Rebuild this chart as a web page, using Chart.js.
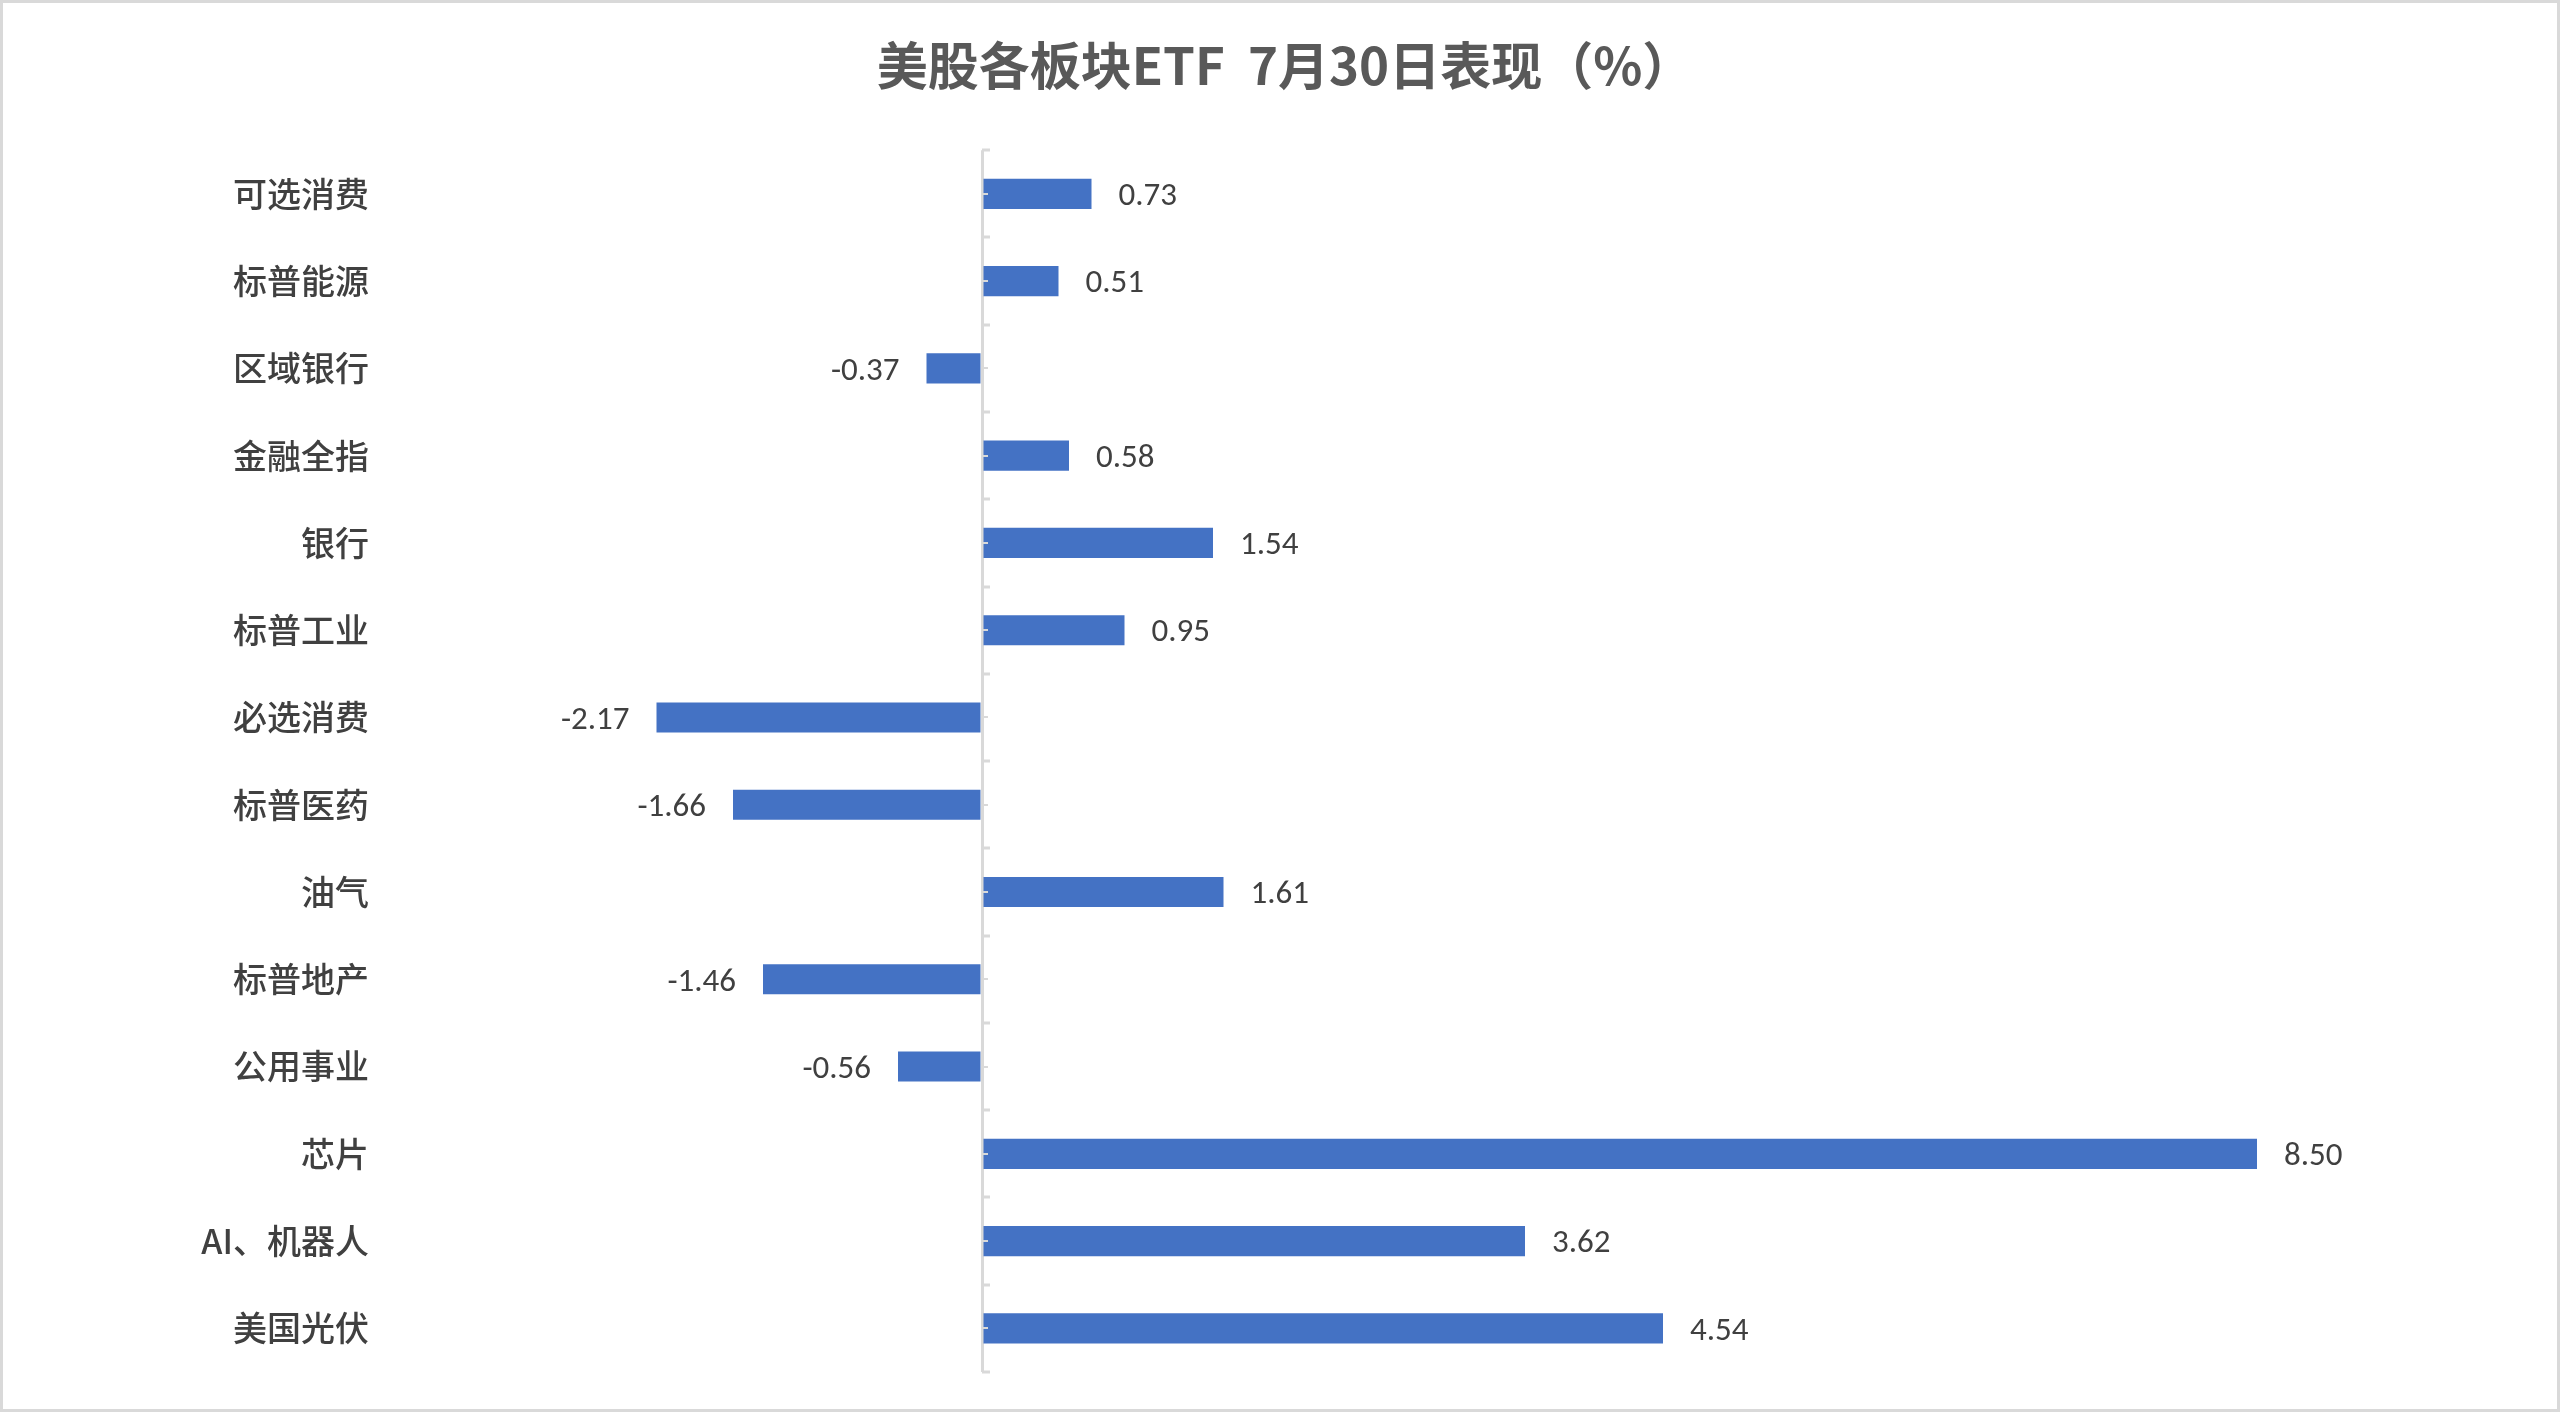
<!DOCTYPE html>
<html>
<head>
<meta charset="utf-8">
<script src="https://cdn.jsdelivr.net/npm/chart.js@4"></script>
<style>
  html, body { margin: 0; padding: 0; background: #fff; }
  #wrap { width: 2560px; height: 1412px; }
</style>
</head>
<body>
<div id="wrap"><canvas id="sectorChart" width="2560" height="1412"></canvas></div>
<script>
// Sector ETF moves on July 30 (%)
const categories = [
  "可选消费", "标普能源", "区域银行", "金融全指", "银行", "标普工业", "必选消费",
  "标普医药", "油气", "标普地产", "公用事业", "芯片", "AI、机器人", "美国光伏",
];
const changes = [0.73, 0.51, -0.37, 0.58, 1.54, 0.95, -2.17, -1.66, 1.61, -1.46, -0.56, 8.5, 3.62, 4.54];
const axisMin = -4;
const axisMax = 10;

const numFont = "Carlito, 'Liberation Sans Narrow', 'DejaVu Sans Condensed', sans-serif";
const cjkFont = "'Noto Sans CJK SC', 'Noto Sans', sans-serif";

// white page plus thin grey frame
const framePlugin = {
  id: "frame",
  beforeDraw(chart) {
    const ctx = chart.ctx;
    ctx.save();
    ctx.fillStyle = "#ffffff";
    ctx.fillRect(0, 0, chart.width, chart.height);
    ctx.strokeStyle = "#d9d9d9";
    ctx.lineWidth = 3;
    ctx.strokeRect(1.5, 1.5, chart.width - 3, chart.height - 3);
    ctx.restore();
  },
};

// small tick marks on the zero axis + value labels
const axisAndLabels = {
  id: "axisAndLabels",
  afterDatasetsDraw(chart) {
    const ctx = chart.ctx;
    const xs = chart.scales.x;
    const ys = chart.scales.y;
    const x0 = xs.getPixelForValue(0);
    const step = ys.getPixelForValue(1) - ys.getPixelForValue(0);

    ctx.save();
    ctx.strokeStyle = "#d9d9d9";
    ctx.lineWidth = 3;
    for (let i = 0; i <= categories.length; i++) {
      const y = Math.round(ys.getPixelForValue(0) - step / 2 + i * step);
      ctx.beginPath();
      ctx.moveTo(x0, y);
      ctx.lineTo(x0 + 8, y);
      ctx.stroke();
    }
    ctx.lineWidth = 2;
    for (let i = 0; i < categories.length; i++) {
      const y = Math.round(ys.getPixelForValue(i));
      ctx.beginPath();
      ctx.moveTo(x0, y);
      ctx.lineTo(x0 + 6, y);
      ctx.stroke();
    }

    ctx.fillStyle = "#404040";
    ctx.font = "33px " + numFont;
    ctx.textBaseline = "middle";
    const meta = chart.getDatasetMeta(0);
    meta.data.forEach((bar, i) => {
      const v = changes[i];
      if (v >= 0) {
        ctx.textAlign = "left";
        ctx.fillText(v.toFixed(2), bar.x + 27, bar.y + 3);
      } else {
        ctx.textAlign = "right";
        ctx.fillText(v.toFixed(2), bar.x - 27, bar.y + 3);
      }
    });
    ctx.restore();
  },
};

const ctx = document.getElementById("sectorChart").getContext("2d");
new Chart(ctx, {
  type: "bar",
  data: {
    labels: categories,
    datasets: [
      {
        data: changes,
        backgroundColor: "#4472C4",
        borderWidth: 0,
        categoryPercentage: 1,
        barPercentage: 0.345,
      },
    ],
  },
  options: {
    indexAxis: "y",
    responsive: false,
    animation: false,
    devicePixelRatio: 1,
    layout: { padding: { left: 88, right: 78, top: 0, bottom: 40 } },
    plugins: {
      legend: { display: false },
      tooltip: { enabled: false },
      title: {
        display: true,
        text: "美股各板块ETF  7月30日表现（%）",
        color: "#595959",
        font: { family: cjkFont, size: 51, weight: "bold" },
        padding: { top: 35, bottom: 54 },
      },
    },
    scales: {
      x: {
        min: axisMin,
        max: axisMax,
        ticks: { display: false, stepSize: 2 },
        border: { display: false },
        grid: {
          drawTicks: false,
          lineWidth: 3,
          color: (c) => (c.tick && c.tick.value === 0 ? "#d9d9d9" : "rgba(0,0,0,0)"),
        },
        afterFit(scale) {
          scale.height = 0;
        },
      },
      y: {
        border: { display: false },
        grid: { display: false, drawTicks: false },
        ticks: {
          color: "#404040",
          padding: 13,
          font: { family: cjkFont, size: 34, weight: "500" },
        },
        afterFit(scale) {
          scale.width = 294;
        },
      },
    },
  },
  plugins: [framePlugin, axisAndLabels],
});
</script>
</body>
</html>
